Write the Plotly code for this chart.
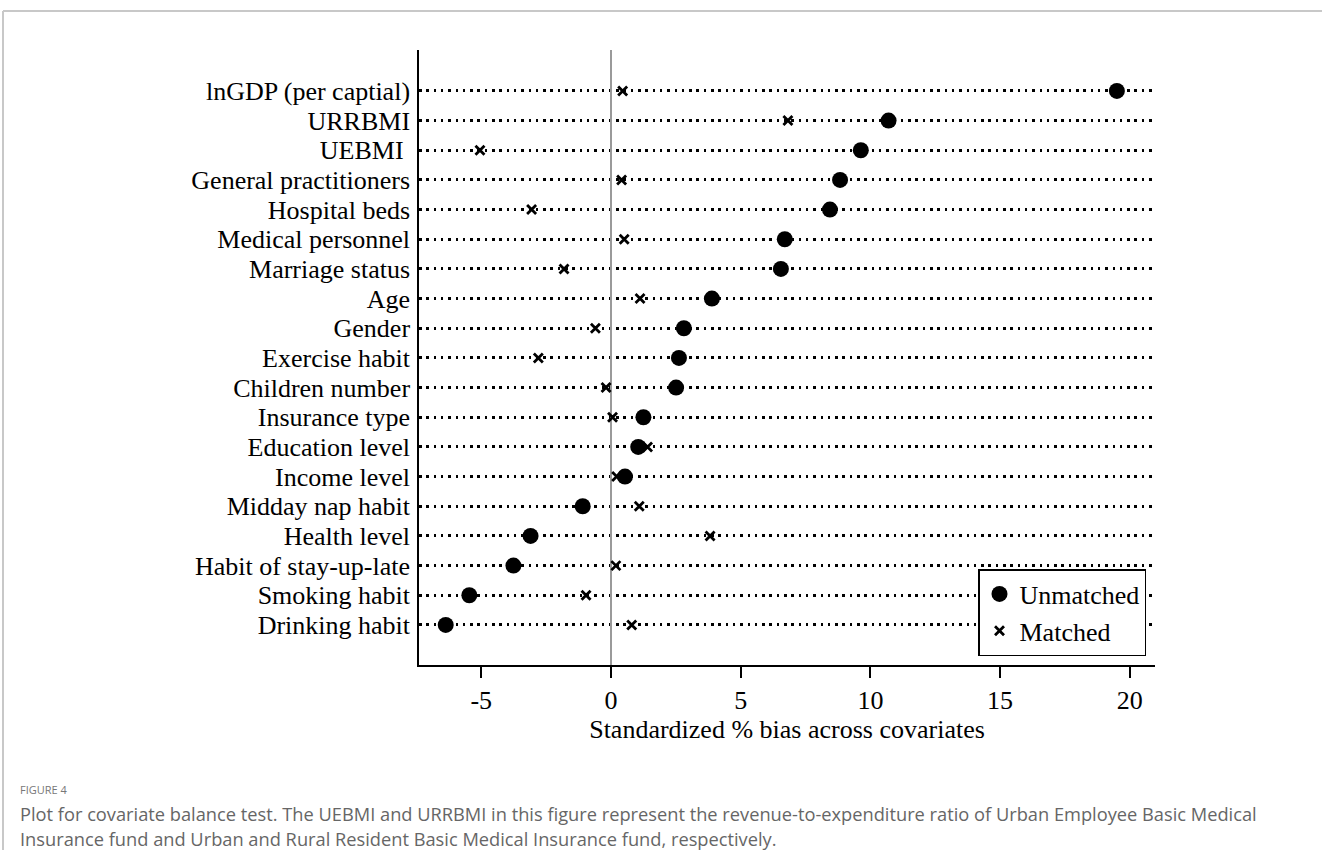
import plotly.graph_objects as go

# Covariates, listed top to bottom
covariates = [
    "lnGDP (per captial)", "URRBMI", "UEBMI\u00a0", "General practitioners",
    "Hospital beds", "Medical personnel", "Marriage status", "Age", "Gender",
    "Exercise habit", "Children number", "Insurance type", "Education level",
    "Income level", "Midday nap habit", "Health level", "Habit of stay-up-late",
    "Smoking habit", "Drinking habit",
]

# Standardized % bias before matching
unmatched = [19.5, 10.7, 9.63, 8.83, 8.44, 6.70, 6.55, 3.89, 2.81, 2.62, 2.51,
             1.25, 1.05, 0.54, -1.09, -3.10, -3.76, -5.46, -6.37]

# Standardized % bias after matching
matched = [0.45, 6.82, -5.05, 0.41, -3.06, 0.51, -1.81, 1.12, -0.60, -2.80, -0.19,
           0.06, 1.41, 0.22, 1.09, 3.82, 0.19, -0.96, 0.80]

x_tick_vals = [-5, 0, 5, 10, 15, 20]
x_tick_text = ["-5", "0", "5", "10", "15", "20"]

W, H = 1322, 850
ML, MR, MT, MB = 419, 167, 50, 185
PW, PH = W - ML - MR, H - MT - MB


def px_x(px):
    return (px - ML) / PW


def px_y(py):
    return (H - MB - py) / PH


SERIF = "Liberation Serif"

fig = go.Figure()
fig.add_trace(go.Scatter(
    x=unmatched, y=covariates, mode="markers", name="Unmatched",
    marker=dict(symbol="circle", size=16, color="black"),
    hoverinfo="skip",
))
fig.add_trace(go.Scatter(
    x=matched, y=covariates, mode="markers", name="Matched",
    marker=dict(symbol="x-thin", size=9, color="black",
                line=dict(color="black", width=2.8)),
    hoverinfo="skip",
))

fig.update_layout(
    width=W, height=H,
    margin=dict(l=ML, r=MR, t=MT, b=MB, pad=0),
    paper_bgcolor="white", plot_bgcolor="white",
    font=dict(family=SERIF, size=26, color="black"),
    showlegend=True,
    legend=dict(
        x=px_x(1146), y=px_y(656), xanchor="right", yanchor="bottom",
        bgcolor="white", bordercolor="black", borderwidth=1.5,
        font=dict(family=SERIF, size=26, color="black"),
        tracegroupgap=0, itemwidth=30,
    ),
    xaxis=dict(
        range=[-7.4, 20.97],
        tickvals=x_tick_vals, ticktext=x_tick_text,
        ticks="outside", ticklen=11, tickwidth=1.5, tickcolor="black",
        showline=True, linecolor="black", linewidth=1.5,
        showgrid=False,
        zeroline=True, zerolinecolor="#9a9a9a", zerolinewidth=2,
        title=dict(text="Standardized % bias across covariates",
                   font=dict(family=SERIF, size=26), standoff=2),
        tickfont=dict(family=SERIF, size=26),
    ),
    yaxis=dict(
        type="category", categoryorder="array", categoryarray=covariates,
        range=[18 + 1.35, -1.38], dtick=1, tick0=0,
        ticks="", showline=True, linecolor="black", linewidth=1.5,
        showgrid=True, gridcolor="black", gridwidth=2.5, griddash="2.5px,4.8px",
        zeroline=False, ticklabelstandoff=2,
        tickfont=dict(family=SERIF, size=26),
    ),
)

# Page frame lines
fig.add_shape(type="line", xref="paper", yref="paper",
              x0=px_x(3), x1=px_x(1322), y0=px_y(11), y1=px_y(11),
              line=dict(color="#c8c8c8", width=2))
fig.add_shape(type="line", xref="paper", yref="paper",
              x0=px_x(3), x1=px_x(3), y0=px_y(11), y1=px_y(850),
              line=dict(color="#c8c8c8", width=2))

# Caption
CAP = "Open Sans"
fig.add_annotation(xref="paper", yref="paper", x=px_x(18), y=px_y(789),
                   xanchor="left", yanchor="middle", showarrow=False,
                   text="FIGURE 4", font=dict(family=CAP, size=11, color="#777777"))
fig.add_annotation(xref="paper", yref="paper", x=px_x(18), y=px_y(813),
                   xanchor="left", yanchor="middle", showarrow=False,
                   text="Plot for covariate balance test. The UEBMI and URRBMI in this figure represent the revenue-to-expenditure ratio of Urban Employee Basic Medical",
                   font=dict(family=CAP, size=18.25, color="#666666"))
fig.add_annotation(xref="paper", yref="paper", x=px_x(18), y=px_y(838),
                   xanchor="left", yanchor="middle", showarrow=False,
                   text="Insurance fund and Urban and Rural Resident Basic Medical Insurance fund, respectively.",
                   font=dict(family=CAP, size=18.25, color="#666666"))

fig.write_html("out.html")
